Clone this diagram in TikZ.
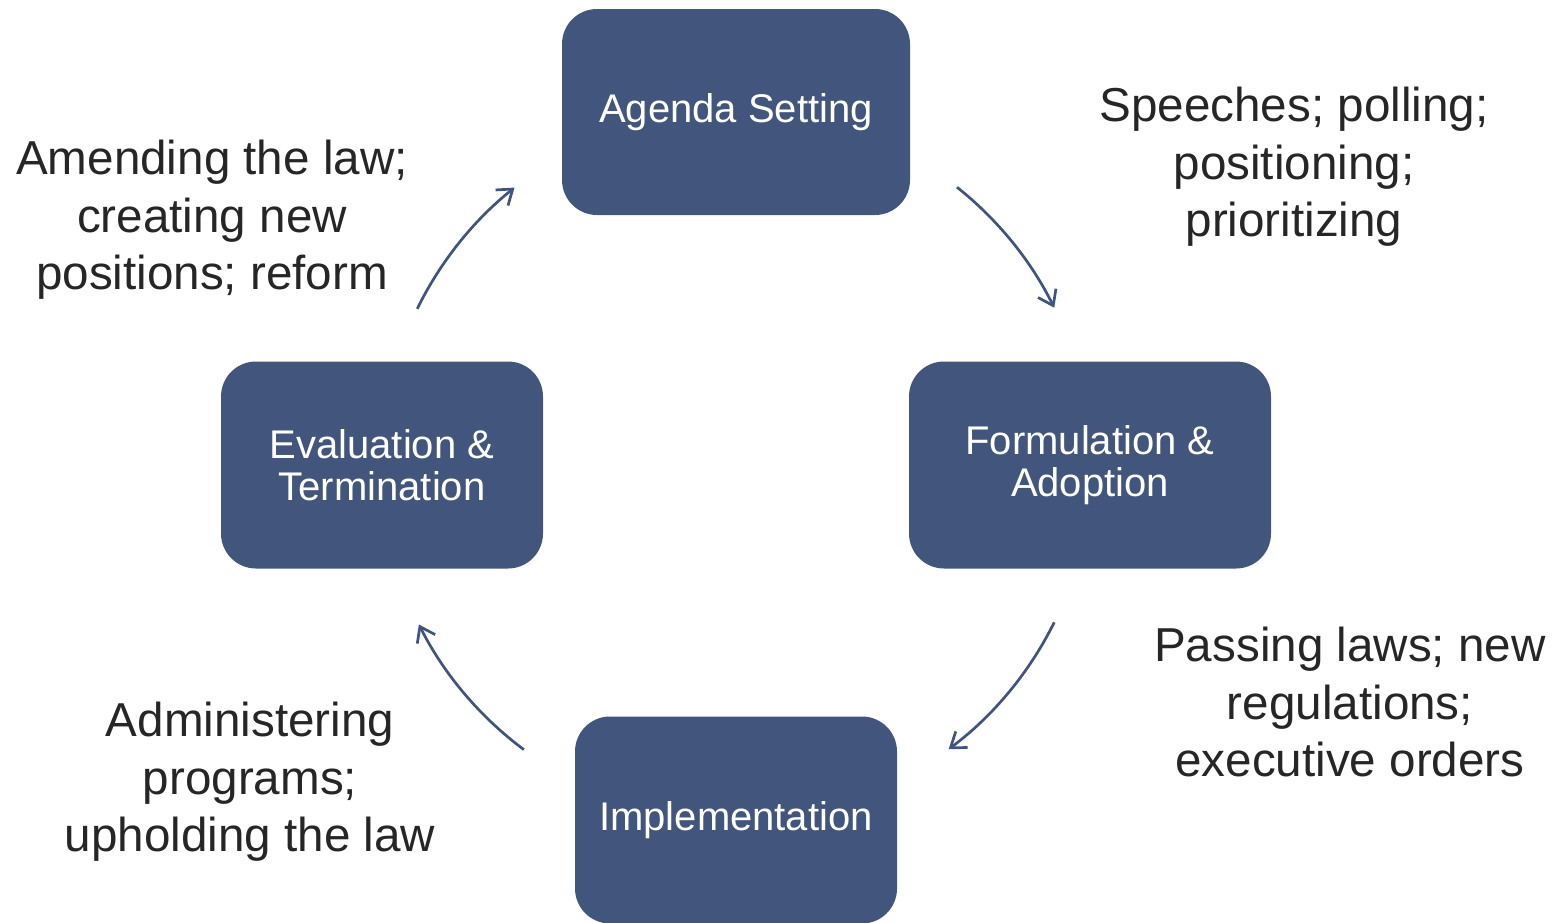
\documentclass[tikz,border=0pt]{standalone}
\usepackage{fontspec}
\setmainfont{Liberation Sans}
\usetikzlibrary{arrows.meta,calc}
\definecolor{boxblue}{RGB}{65,85,125}
\definecolor{arrowblue}{RGB}{63,84,128}

\begin{document}
\begin{tikzpicture}[x=0.5pt,y=0.5pt,
  stage/.style={fill=boxblue,draw=none,rounded corners=17.5pt,text=white,
    align=center,inner sep=0pt,font=\fontsize{20}{21}\selectfont},
  note/.style={align=center,text=black!85,font=\fontsize{23.8}{28.7}\selectfont},
  flow/.style={draw=arrowblue,line width=1.35pt,
    -{Straight Barb[length=7pt,width=10pt]}}]
  \useasboundingbox (0,0) rectangle (1562,-922);
  \coordinate (c) at (736,-465);
  % the four stages
  \node[stage,minimum width=174pt,minimum height=103pt] (agenda) at (736,-112) {Agenda Setting};
  \node[stage,minimum width=181pt,minimum height=103.5pt] (formul) at (1090,-465) {Formulation \&\\Adoption};
  \node[stage,minimum width=161pt,minimum height=103.5pt] (implem) at (736,-820) {Implementation};
  \node[stage,minimum width=161pt,minimum height=103.5pt] (evalu) at (382,-465) {Evaluation \&\\Termination};
  % notes
  \node[note] (speech) at (1294,-167) {Speeches; polling;\\positioning;\\prioritizing};
  \node[note] (passing) at (1350,-702) {Passing laws; new\\regulations;\\executive orders};
  \node[note] (admin) at (250,-782) {Administering\\programs;\\upholding the law};
  \node[note] (amend) at (212,-220) {Amending the law;\\creating new\\positions; reform};
  % arrows round the cycle
  \draw[flow] ($(c)+(51.5:355)$) arc[start angle=51.5,end angle=26.3,radius=355];
  \draw[flow] ($(c)+(-26.3:355)$) arc[start angle=-26.3,end angle=-53.2,radius=355];
  \draw[flow] ($(c)+(-126.7:355)$) arc[start angle=-126.7,end angle=-153.3,radius=355];
  \draw[flow] ($(c)+(153.9:355)$) arc[start angle=153.9,end angle=128.6,radius=355];
\end{tikzpicture}
\end{document}
